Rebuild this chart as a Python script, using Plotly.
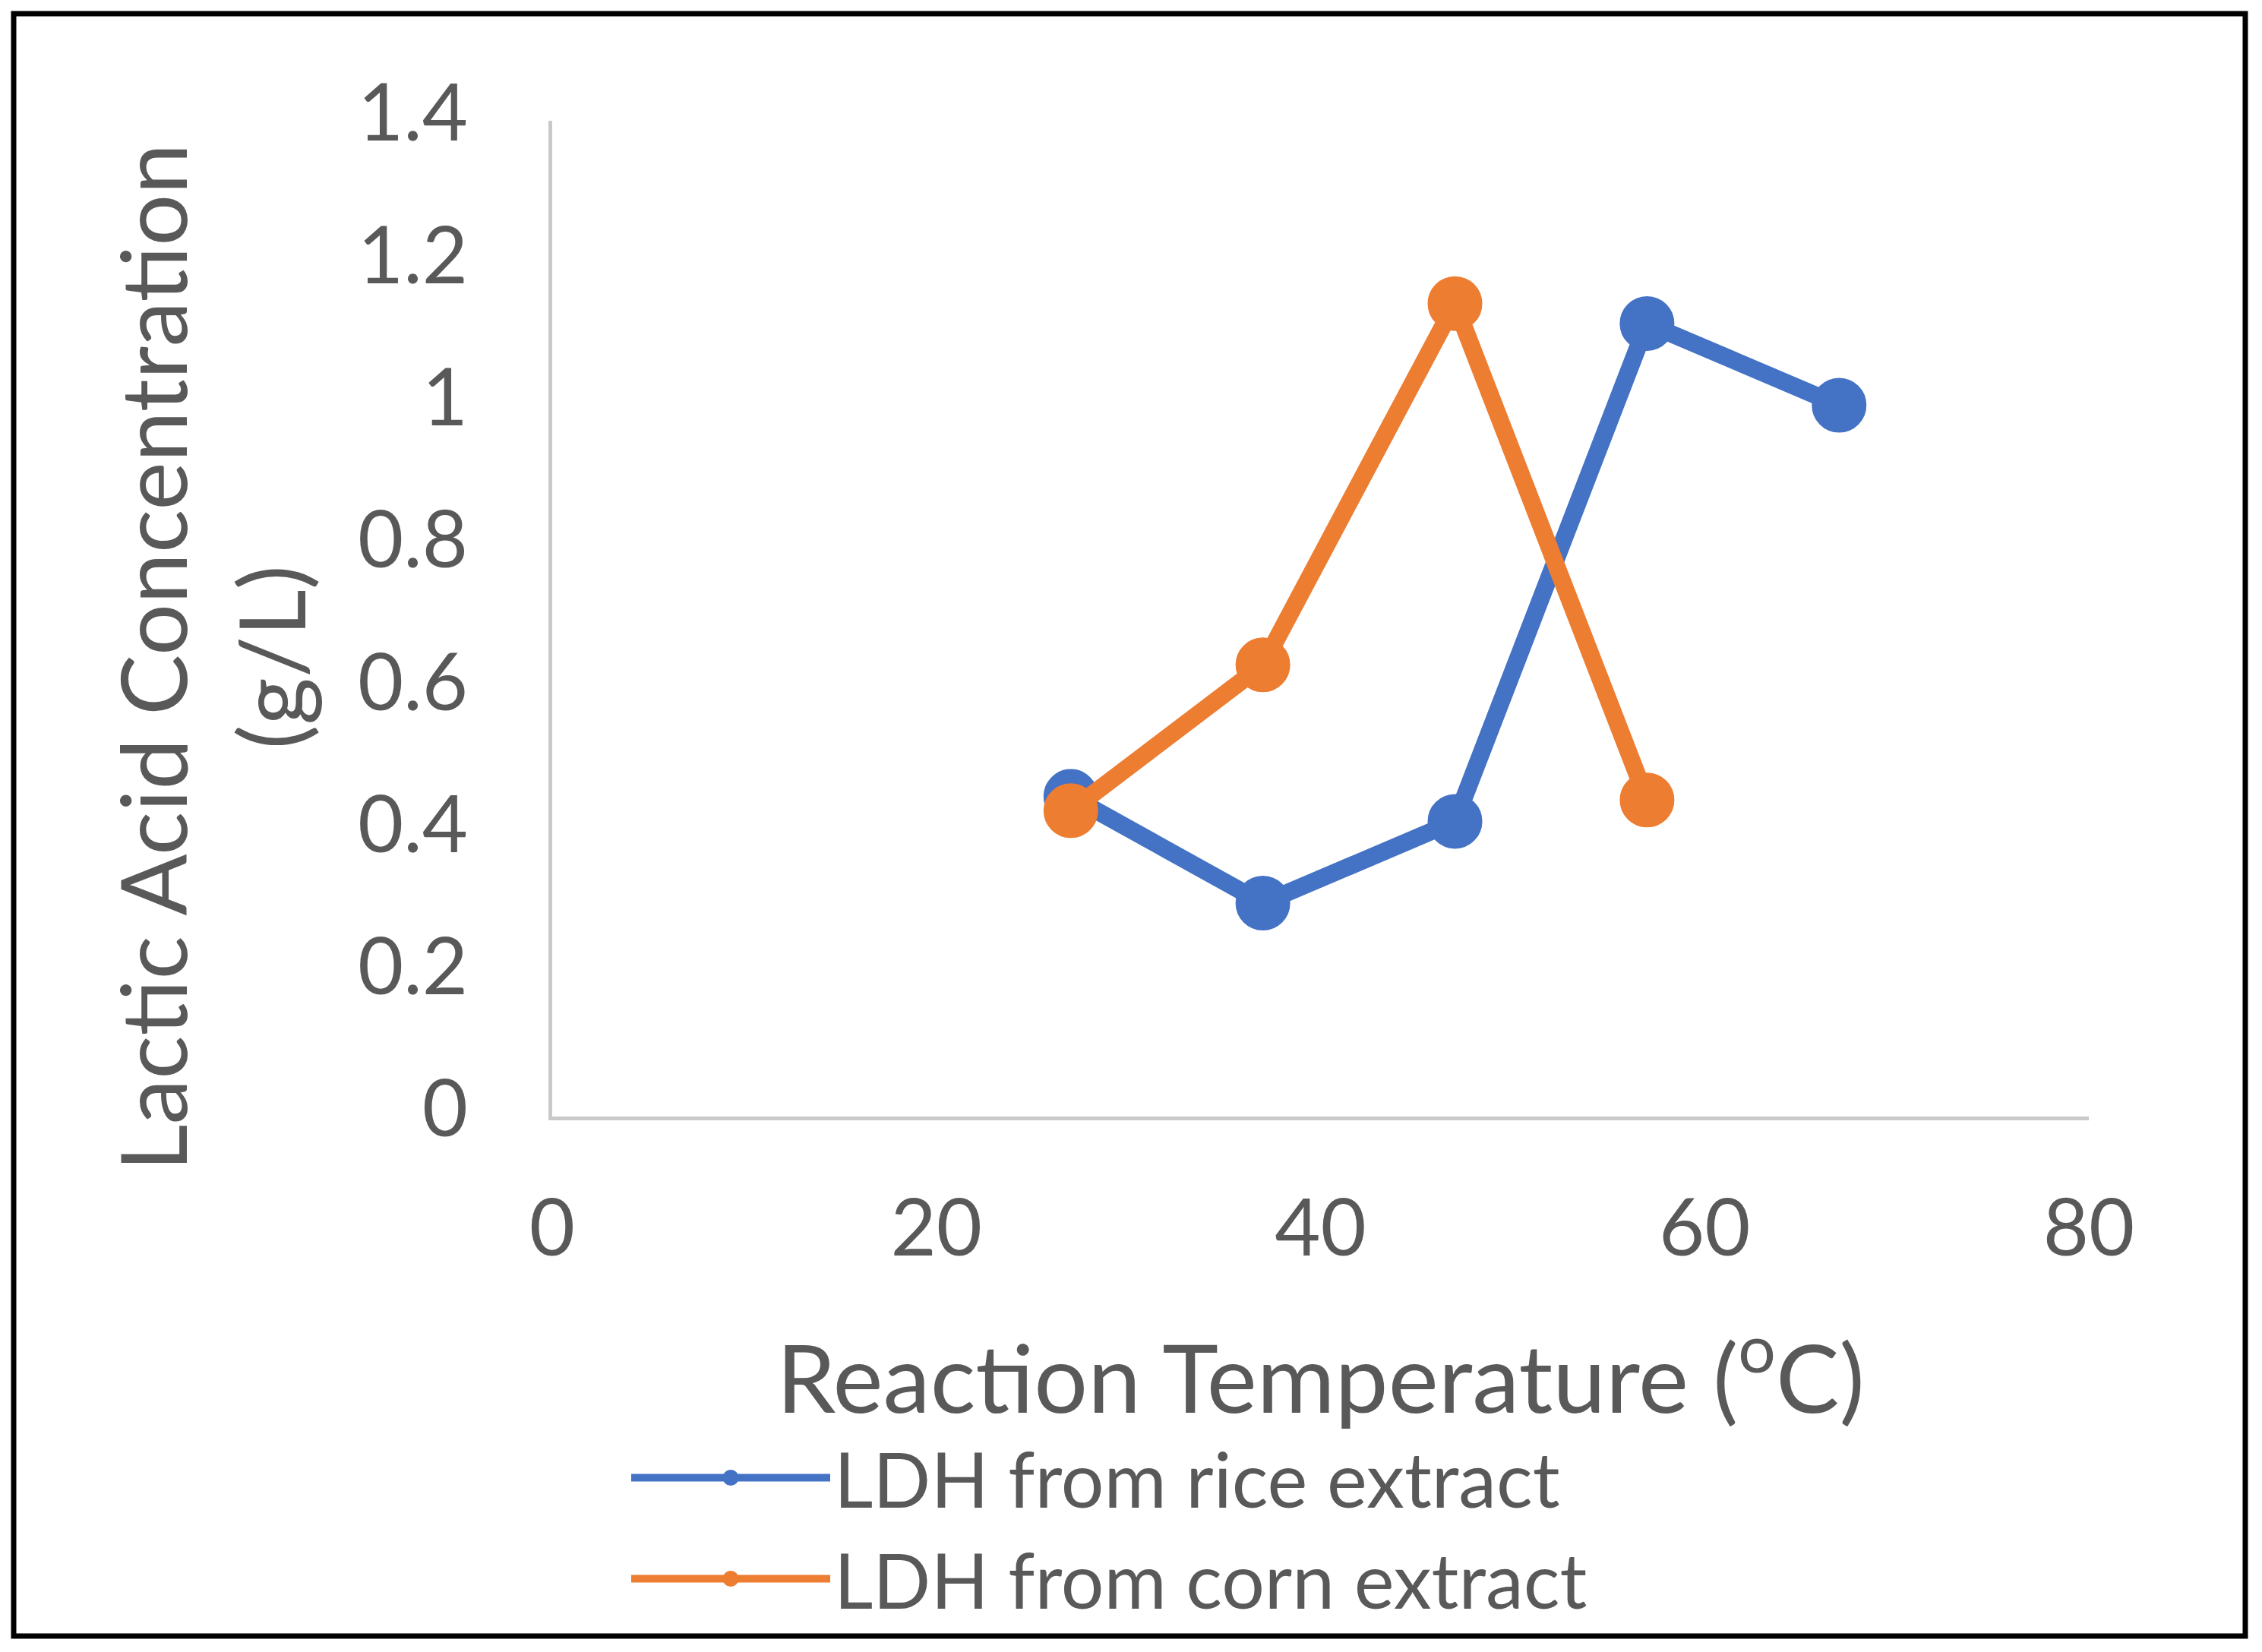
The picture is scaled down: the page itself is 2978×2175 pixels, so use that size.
import plotly.graph_objects as go

# Data
temp_rice = [27, 37, 47, 57, 67]
conc_rice = [0.45, 0.30, 0.415, 1.115, 1.00]
temp_corn = [27, 37, 47, 57]
conc_corn = [0.43, 0.635, 1.143, 0.445]

series_names = ["LDH from rice extract", "LDH from corn extract"]
x_ticks = [0, 20, 40, 60, 80]
y_ticks = [0, 0.2, 0.4, 0.6, 0.8, 1.0, 1.2, 1.4]

BLUE = "#4472C4"
ORANGE = "#ED7D31"
TXT = "#595959"
FONT = "Lato"

W, H = 2978, 2175
L, R, T, B = 727, 2750, 159, 1470

fig = go.Figure()
fig.add_trace(go.Scatter(x=temp_rice, y=conc_rice, mode="lines+markers", name=series_names[0],
                         line=dict(color=BLUE, width=23),
                         marker=dict(color=BLUE, size=67, line=dict(color=BLUE, width=5))))
fig.add_trace(go.Scatter(x=temp_corn, y=conc_corn, mode="lines+markers", name=series_names[1],
                         line=dict(color=ORANGE, width=23),
                         marker=dict(color=ORANGE, size=67, line=dict(color=ORANGE, width=5))))

pw, ph = R - L, B - T
def px(x):
    return (x - L) / pw
def py(y):
    return (B - y) / ph

fig.add_shape(type="rect", xref="paper", yref="paper",
              x0=px(18), x1=px(2956), y0=py(2154), y1=py(18),
              line=dict(color="black", width=7), fillcolor="rgba(0,0,0,0)", layer="below")

fig.add_annotation(text="Lactic Acid Concentration<br>(g/L)", textangle=-90,
                   xref="paper", yref="paper", x=px(278), y=py(866),
                   xanchor="center", yanchor="middle", showarrow=False,
                   font=dict(size=120, color=TXT, family=FONT))

fig.update_layout(
    width=W, height=H,
    margin=dict(l=L, r=W - R, t=T, b=H - B, autoexpand=False),
    paper_bgcolor="white", plot_bgcolor="white",
    font=dict(family=FONT, color=TXT, size=104),
    showlegend=True,
    legend=dict(xref="container", yref="container", x=826 / W, y=1 - 1874 / H,
                xanchor="left", yanchor="top", itemwidth=262,
                font=dict(size=100, color=TXT, family=FONT),
                bgcolor="rgba(0,0,0,0)", tracegroupgap=0),
)
fig.update_xaxes(range=[0, 80], tickvals=x_ticks, showgrid=False, zeroline=False,
                 showline=True, linecolor="#C9C9C9", linewidth=5,
                 ticks="", ticklabelstandoff=53,
                 tickfont=dict(size=104, color=TXT, family=FONT),
                 title=dict(text="Reaction Temperature (<sup>o</sup>C)", standoff=100,
                            font=dict(size=125, color=TXT, family=FONT)))
fig.update_yaxes(range=[0, 1.4], tickvals=y_ticks, showgrid=False, zeroline=False,
                 showline=True, linecolor="#C9C9C9", linewidth=5,
                 ticks="", ticklabelstandoff=85, ticklabelshift=-10,
                 tickfont=dict(size=104, color=TXT, family=FONT))

fig.write_html("out.html")
